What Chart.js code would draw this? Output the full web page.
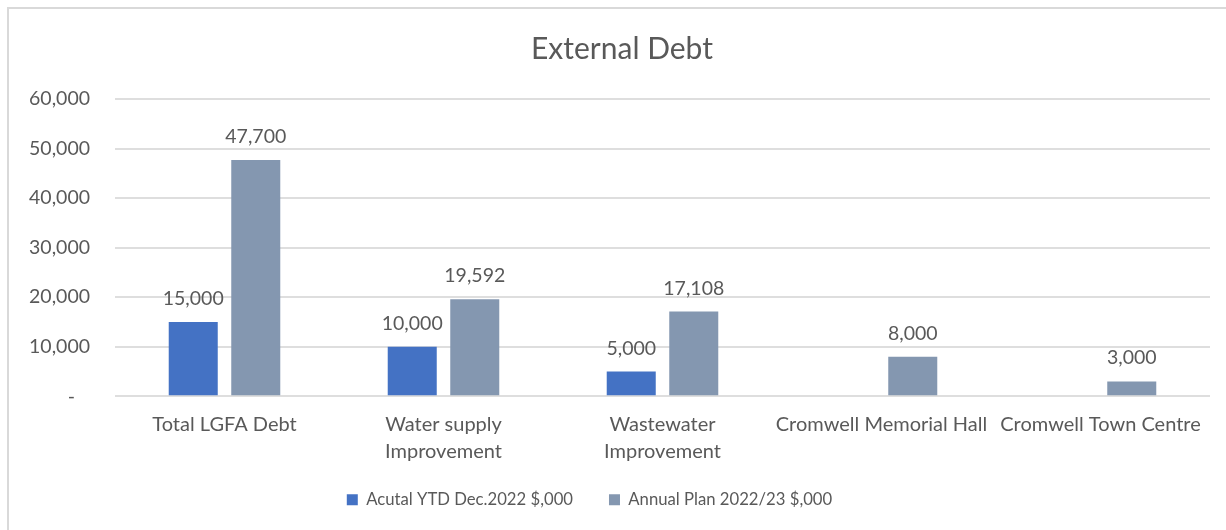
<!DOCTYPE html>
<html>
<head>
<meta charset="utf-8">
<title>External Debt</title>
<script src="https://cdn.jsdelivr.net/npm/chart.js@4.4.0/dist/chart.umd.min.js"></script>
<style>
  html, body { margin: 0; padding: 0; background: #fff; }
  #wrap { position: relative; width: 1226px; height: 530px; }
</style>
</head>
<body>
<div id="wrap"><canvas id="grafico"></canvas></div>
<script>
// categories (multi-line ones are arrays)
const categories = [
  'Total LGFA Debt',
  ['Water supply', 'Improvement'],
  ['Wastewater', 'Improvement'],
  'Cromwell Memorial Hall',
  'Cromwell Town Centre'
];
const actualYtd = [15000, 10000, 5000, null, null];
const annualPlan = [47700, 19592, 17108, 8000, 3000];
const seriesNames = ['Acutal YTD Dec.2022 $,000', 'Annual Plan 2022/23 $,000'];
const yMin = 0, yMax = 60000, yStep = 10000;

const textColor = '#595959';
Chart.defaults.font.family = 'Lato, sans-serif';
Chart.defaults.color = textColor;

function fmt(v) {
  return v.toLocaleString('en-US');
}

// light frame round the chart (left and top edges are inside the canvas)
const frame = {
  id: 'frame',
  beforeDraw(chart) {
    const ctx = chart.ctx;
    ctx.save();
    ctx.strokeStyle = '#d9d9d9';
    ctx.lineWidth = 2;
    ctx.beginPath();
    ctx.moveTo(8, chart.height + 2);
    ctx.lineTo(8, 8);
    ctx.lineTo(chart.width + 2, 8);
    ctx.stroke();
    ctx.restore();
  }
};

// value labels above every bar
const barLabels = {
  id: 'barLabels',
  afterDatasetsDraw(chart) {
    const ctx = chart.ctx;
    ctx.save();
    ctx.font = '19.5px Lato, sans-serif';
    ctx.fillStyle = textColor;
    ctx.textAlign = 'center';
    ctx.textBaseline = 'alphabetic';
    chart.data.datasets.forEach((ds, i) => {
      const meta = chart.getDatasetMeta(i);
      meta.data.forEach((bar, j) => {
        const v = ds.data[j];
        if (v === null || v === undefined) return;
        ctx.fillText(fmt(v), bar.x, bar.y - 17);
      });
    });
    ctx.restore();
  }
};

// move title and legend boxes: title centred over the frame, legend a bit left and up
function centreBox(box, cx) {
  const w = box.right - box.left;
  box.left = cx - w / 2;
  box.right = cx + w / 2;
}
const boxShift = {
  id: 'boxShift',
  afterLayout(chart) {
    if (chart.titleBlock) centreBox(chart.titleBlock, 622);
    if (chart.legend) {
      centreBox(chart.legend, 589.5);
      chart.legend.top -= 12;
      chart.legend.bottom -= 12;
    }
  }
};

const ctx = document.getElementById('grafico').getContext('2d');
const grafico = new Chart(ctx, {
  type: 'bar',
  data: {
    labels: categories,
    datasets: [{
      label: seriesNames[0],
      data: actualYtd,
      backgroundColor: '#4472C4',
      categoryPercentage: 0.571,
      barPercentage: 0.784
    }, {
      label: seriesNames[1],
      data: annualPlan,
      backgroundColor: '#8497B0',
      categoryPercentage: 0.571,
      barPercentage: 0.784
    }]
  },
  options: {
    responsive: true,
    maintainAspectRatio: false,
    animation: false,
    devicePixelRatio: 1,
    layout: { padding: { left: 0, right: 16, top: 0, bottom: 0 } },
    plugins: {
      title: {
        display: true,
        text: 'External Debt',
        color: textColor,
        font: { size: 30, weight: 'normal' },
        padding: { top: 31, bottom: 32 }
      },
      legend: {
        position: 'bottom',
        labels: {
          boxWidth: 11,
          boxHeight: 11,
          padding: 36,
          color: textColor,
          font: { size: 16.7 }
        }
      },
      tooltip: { enabled: false }
    },
    scales: {
      x: {
        grid: { display: false, drawTicks: false },
        border: { display: false },
        ticks: {
          padding: 15,
          autoSkip: false,
          maxRotation: 0,
          color: textColor,
          font: { size: 20, lineHeight: 1.35 }
        },
        afterFit(scale) { scale.height = 71; }
      },
      y: {
        min: yMin,
        max: yMax,
        grid: { color: '#dedede', lineWidth: 2, drawTicks: false },
        border: { display: false },
        ticks: {
          stepSize: yStep,
          padding: 25,
          color: textColor,
          font: { size: 19.5 },
          callback: v => (v === 0 ? '-   ' : fmt(v))
        },
        afterFit(scale) { scale.width = 115; }
      }
    }
  },
  plugins: [frame, barLabels, boxShift]
});
</script>
</body>
</html>
